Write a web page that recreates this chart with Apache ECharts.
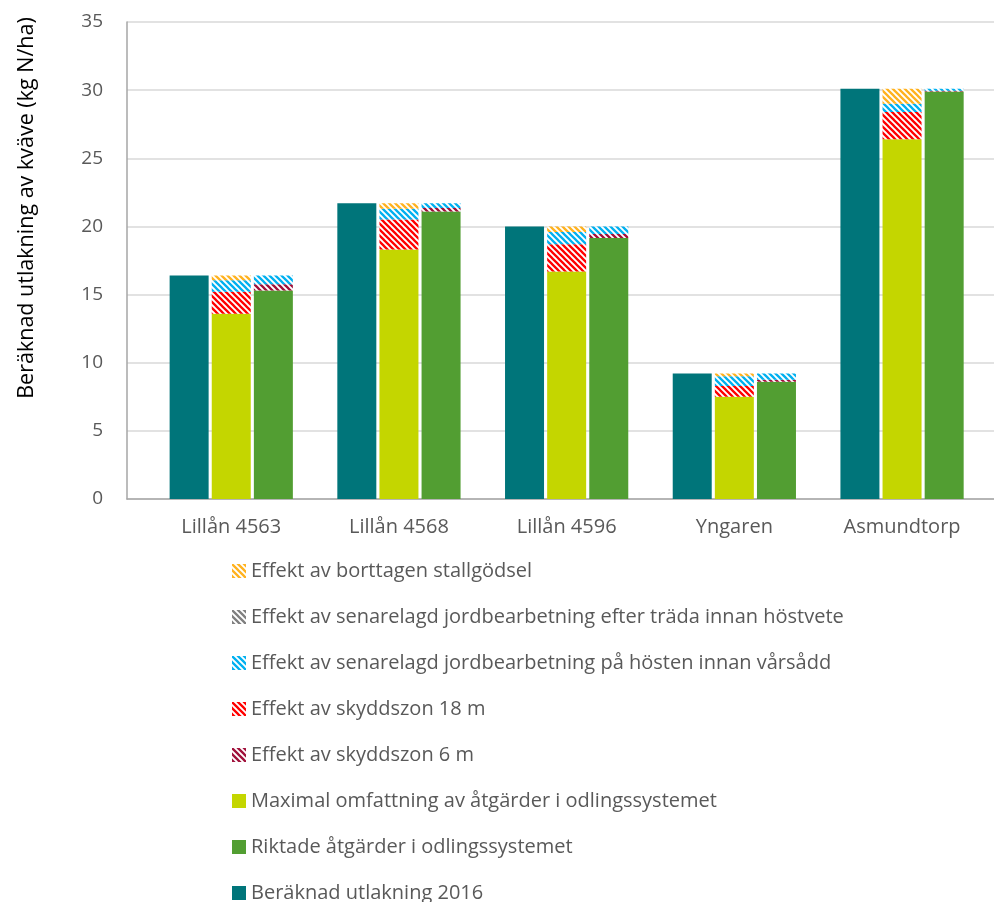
<!DOCTYPE html>
<html>
<head>
<meta charset="utf-8">
<script src="https://cdn.jsdelivr.net/npm/echarts@6/dist/echarts.min.js"></script>
<style>html,body{margin:0;padding:0;background:#fff;}#c{width:994px;height:902px;}</style>
</head>
<body>
<div id="c"></div>
<script>
const categories = ['Lillån 4563', 'Lillån 4568', 'Lillån 4596', 'Yngaren', 'Asmundtorp'];
const yTicks = [0, 5, 10, 15, 20, 25, 30, 35];

const beraknad2016 = [16.4, 21.7, 20.0, 9.2, 30.1];
const maximalBase = [13.6, 18.3, 16.7, 7.5, 26.4];
const maxSkyddszon18 = [1.6, 2.2, 2.0, 0.8, 2.0];
const maxSenarelagdHost = [0.85, 0.8, 0.9, 0.7, 0.6];
const maxStallgodsel = [0.35, 0.4, 0.4, 0.2, 1.1];
const riktadeBase = [15.3, 21.1, 19.15, 8.6, 29.9];
const riktSkyddszon6 = [0.45, 0.25, 0.3, 0.15, 0.05];
const riktSenarelagdHost = [0.65, 0.35, 0.55, 0.45, 0.15];
const riktSenarelagdTrada = [0, 0, 0, 0, 0];

const names = {
  stall: 'Effekt av borttagen stallgödsel',
  trada: 'Effekt av senarelagd jordbearbetning efter träda innan höstvete',
  host: 'Effekt av senarelagd jordbearbetning på hösten innan vårsådd',
  s18: 'Effekt av skyddszon 18 m',
  s6: 'Effekt av skyddszon 6 m',
  max: 'Maximal omfattning av åtgärder i odlingssystemet',
  rikt: 'Riktade åtgärder i odlingssystemet',
  ber: 'Beräknad utlakning 2016'
};

function hatch(color) {
  const s = 6;
  const c = document.createElement('canvas');
  c.width = s; c.height = s;
  const g = c.getContext('2d');
  g.fillStyle = '#ffffff';
  g.fillRect(0, 0, s, s);
  g.strokeStyle = color;
  g.lineWidth = 2.3;
  g.beginPath();
  for (const x0 of [-s, 0, s]) {
    g.moveTo(x0 - 1, -1);
    g.lineTo(x0 + s + 1, s + 1);
  }
  g.stroke();
  return { image: c, repeat: 'repeat' };
}

const FONT = 'Open Sans';
const TXT = '#595959';
const BW = 39;

function bar(name, data, stack, color) {
  return {
    name, type: 'bar', data, stack,
    xAxisIndex: 1, yAxisIndex: 1,
    barWidth: BW, barGap: '8%',
    itemStyle: { color },
    emphasis: { disabled: true },
    animation: false
  };
}

const chart = echarts.init(document.getElementById('c'), null, { renderer: 'canvas' });
chart.setOption({
  animation: false,
  backgroundColor: '#fff',
  textStyle: { fontFamily: FONT },
  grid: [
    { left: 127, top: 22, right: 0, height: 477 },
    { left: 147.4, top: 22, width: 838.5, height: 477 }
  ],
  xAxis: [
    { type: 'category', gridIndex: 0, data: categories,
      axisLine: { show: true, lineStyle: { color: '#a6a6a6', width: 1.5 } },
      axisTick: { show: false }, axisLabel: { show: false }, splitLine: { show: false } },
    { type: 'category', gridIndex: 1, data: categories,
      axisLine: { show: false }, axisTick: { show: false },
      axisLabel: { color: TXT, fontSize: 20, fontFamily: FONT, margin: 18 } }
  ],
  yAxis: [
    { type: 'value', gridIndex: 0, min: yTicks[0], max: yTicks[yTicks.length - 1], interval: 5,
      axisLine: { show: true, lineStyle: { color: '#a6a6a6', width: 1.5 } },
      axisTick: { show: false },
      axisLabel: { color: TXT, fontSize: 19, fontFamily: FONT, margin: 24 },
      splitLine: { show: true, lineStyle: { color: '#d9d9d9', width: 1.5 } } },
    { type: 'value', gridIndex: 1, min: 0, max: 35, interval: 5, show: false,
      splitLine: { show: false } }
  ],
  legend: {
    orient: 'vertical', left: 232, top: 561, padding: 0,
    width: 750, height: 400,
    icon: 'rect',
    itemWidth: 14, itemHeight: 14, itemGap: 26,
    textStyle: { color: TXT, fontSize: 20, fontFamily: FONT, lineHeight: 20 },
    selectedMode: false,
    data: [names.stall, names.trada, names.host, names.s18, names.s6, names.max, names.rikt, names.ber]
  },
  graphic: [{
    type: 'text', x: 27, y: 208, rotation: Math.PI / 2,
    style: { text: 'Beräknad utlakning av kväve (kg N/ha)', fontSize: 21.5, fontFamily: FONT,
      fill: '#000', align: 'center', verticalAlign: 'middle' }
  }],
  series: [
    bar(names.ber, beraknad2016, 'a', '#00757a'),
    bar(names.max, maximalBase, 'b', '#c4d600'),
    bar(names.rikt, riktadeBase, 'c', '#529e32'),
    bar(names.s18, maxSkyddszon18, 'b', hatch('#ff0000')),
    bar(names.s6, riktSkyddszon6, 'c', hatch('#a0103a')),
    bar(names.host, maxSenarelagdHost, 'b', hatch('#00b0f0')),
    bar(names.host, riktSenarelagdHost, 'c', hatch('#00b0f0')),
    bar(names.trada, riktSenarelagdTrada, 'c', hatch('#7f7f7f')),
    bar(names.stall, maxStallgodsel, 'b', hatch('#ffb21f'))
  ]
});
</script>
</body>
</html>
